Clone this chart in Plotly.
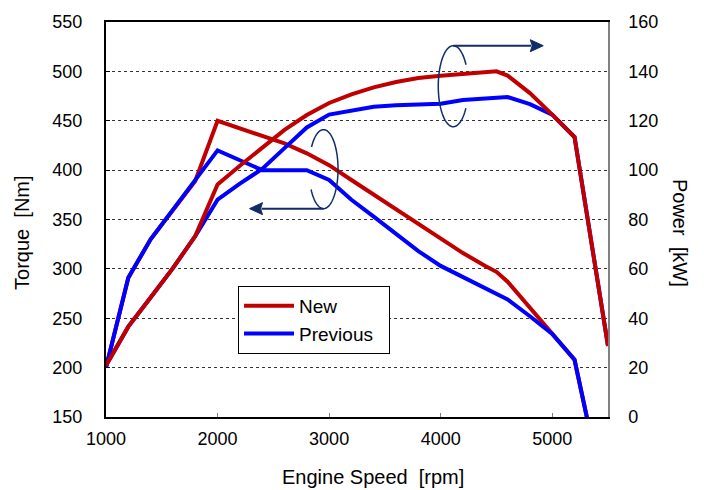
import numpy as np
import plotly.graph_objects as go

# ---------------- data ----------------
rpm_new = [1000, 1200, 1400, 1600, 1800, 2000, 2200, 2400, 2600, 2800, 3000, 3200,
           3400, 3600, 3800, 4000, 4200, 4400, 4500, 4600, 4800, 5000, 5200, 5500]
torque_new = [200, 291, 330, 360, 389, 450, 442, 435, 427, 417, 405, 390,
              375, 360, 345, 330, 316, 303, 297, 287, 261, 234, 208, 50]
power_new = [20.9, 36.6, 48.4, 60.3, 73.3, 94.2, 101.8, 109.3, 116.3, 122.3, 127.2, 130.7,
             133.5, 135.7, 137.3, 138.2, 139.0, 139.7, 140.0, 138.3, 131.2, 122.5, 113.4, 28.8]

rpm_prev = [1000, 1200, 1400, 1600, 1800, 2000, 2200, 2400, 2600, 2800, 3000, 3200,
            3400, 3600, 3800, 4000, 4200, 4400, 4600, 4800, 5000, 5200, 5500]
torque_prev = [200, 291, 330, 360, 389, 420, 410, 400, 400, 400, 390, 370,
               353, 335, 318, 303, 292, 280, 269, 252, 234, 208, 50]
power_prev = [20.9, 36.6, 48.4, 60.3, 73.3, 88.0, 94.5, 100.5, 108.9, 117.3, 122.5, 124.0,
              125.7, 126.3, 126.5, 126.9, 128.4, 129.0, 129.6, 126.7, 122.5, 113.4, 28.8]

x_ticks = [1000, 2000, 3000, 4000, 5000]
torque_ticks = [150, 200, 250, 300, 350, 400, 450, 500, 550]
power_ticks = [0, 20, 40, 60, 80, 100, 120, 140, 160]

RED = "#C00000"
BLUE = "#0000FF"
NAVY = "#0F2D69"
FONT = "Arial, Liberation Sans, sans-serif"

fig = go.Figure()
# torque (left axis): red first, blue on top
fig.add_trace(go.Scatter(x=rpm_new, y=torque_new, mode="lines", name="New",
                         line=dict(color=RED, width=4), legendgroup="new", legendrank=1))
fig.add_trace(go.Scatter(x=rpm_prev, y=torque_prev, mode="lines", name="Previous\u00a0\u00a0",
                         line=dict(color=BLUE, width=4), legendgroup="prev", legendrank=2))
# power (right axis): blue first, red on top
fig.add_trace(go.Scatter(x=rpm_prev, y=power_prev, mode="lines", name="Previous", yaxis="y2",
                         line=dict(color=BLUE, width=4), legendgroup="prev", showlegend=False))
fig.add_trace(go.Scatter(x=rpm_new, y=power_new, mode="lines", name="New", yaxis="y2",
                         line=dict(color=RED, width=4), legendgroup="new", showlegend=False))


def arc(rx, ry, a0, a1, n=80):
    t = np.radians(np.linspace(a0, a1, n))
    pts = [f"{rx*np.cos(a):.2f},{ry*np.sin(a):.2f}" for a in t]
    return "M" + " L".join(pts)


shapes = []
# ellipse + arrow for torque (points left)
c1 = dict(xanchor=2950, yanchor=401)
shapes.append(dict(type="path", xref="x", yref="y", xsizemode="pixel", ysizemode="pixel",
                   path=arc(14.5, 39.5, 211, 506), line=dict(color=NAVY, width=1.5), **c1))
shapes.append(dict(type="path", xref="x", yref="y", xsizemode="pixel", ysizemode="pixel",
                   path="M0,-39.5 L-62,-39.5", line=dict(color=NAVY, width=2), **c1))
shapes.append(dict(type="path", xref="x", yref="y", xsizemode="pixel", ysizemode="pixel",
                   path="M-74,-39.5 L-61,-33.5 L-63,-39.5 L-61,-45.5 Z",
                   line=dict(color=NAVY, width=1), fillcolor=NAVY, **c1))
# ellipse + arrow for power (points right)
c2 = dict(xanchor=4113, yanchor=485)
shapes.append(dict(type="path", xref="x", yref="y", xsizemode="pixel", ysizemode="pixel",
                   path=arc(15, 40.5, 32, 327), line=dict(color=NAVY, width=1.5), **c2))
shapes.append(dict(type="path", xref="x", yref="y", xsizemode="pixel", ysizemode="pixel",
                   path="M0,40.5 L78,40.5", line=dict(color=NAVY, width=2), **c2))
shapes.append(dict(type="path", xref="x", yref="y", xsizemode="pixel", ysizemode="pixel",
                   path="M90,40.5 L77,46.5 L79,40.5 L77,34.5 Z",
                   line=dict(color=NAVY, width=1), fillcolor=NAVY, **c2))

fig.update_layout(
    width=704, height=490,
    margin=dict(l=106, r=96, t=20, b=73),
    paper_bgcolor="white", plot_bgcolor="white",
    font=dict(family=FONT, size=18, color="black"),
    showlegend=True,
    legend=dict(x=0.263, y=0.332, xanchor="left", yanchor="top",
                bordercolor="black", borderwidth=1, bgcolor="white",
                font=dict(size=19), itemwidth=50, tracegroupgap=0),
    xaxis=dict(range=[1000, 5500], tickvals=x_ticks, ticktext=[str(v) for v in x_ticks],
               showgrid=False, zeroline=False, showline=True, linecolor="black", linewidth=2,
               mirror=True, ticks="inside", ticklen=4, tickcolor="#808080",
               tickfont=dict(size=18), ticklabelstandoff=4),
    yaxis=dict(range=[150, 550], tickvals=torque_ticks, ticktext=[str(v) for v in torque_ticks],
               showgrid=True, gridcolor="#333333", griddash="dot", gridwidth=1,
               zeroline=False, showline=True, linecolor="black", linewidth=2,
               ticks="inside", ticklen=4, tickcolor="black", tickfont=dict(size=18),
               ticklabelstandoff=18),
    yaxis2=dict(range=[0, 160], tickvals=power_ticks, ticktext=[str(v) for v in power_ticks],
                overlaying="y", side="right", showgrid=False, zeroline=False,
                showline=True, linecolor="#808080", linewidth=1.5, ticks="",
                tickfont=dict(size=18), ticklabelstandoff=15),
    shapes=shapes,
    annotations=[
        dict(text="Engine Speed\u00a0 [rpm]", xref="paper", yref="paper", x=0.532, y=-0.151,
             showarrow=False, font=dict(size=20), xanchor="center", yanchor="middle"),
        dict(text="Torque\u00a0 [Nm]", xref="paper", yref="paper", x=-0.1673, y=0.466,
             showarrow=False, font=dict(size=20), textangle=-90, xanchor="center", yanchor="middle"),
        dict(text="Power\u00a0 [kW]", xref="paper", yref="paper", x=1.1434, y=0.466,
             showarrow=False, font=dict(size=20), textangle=90, xanchor="center", yanchor="middle"),
    ],
)

fig.write_html("out.html", config={"displayModeBar": False},
               post_script="document.body.style.margin='0px';document.body.style.overflow='hidden';")
